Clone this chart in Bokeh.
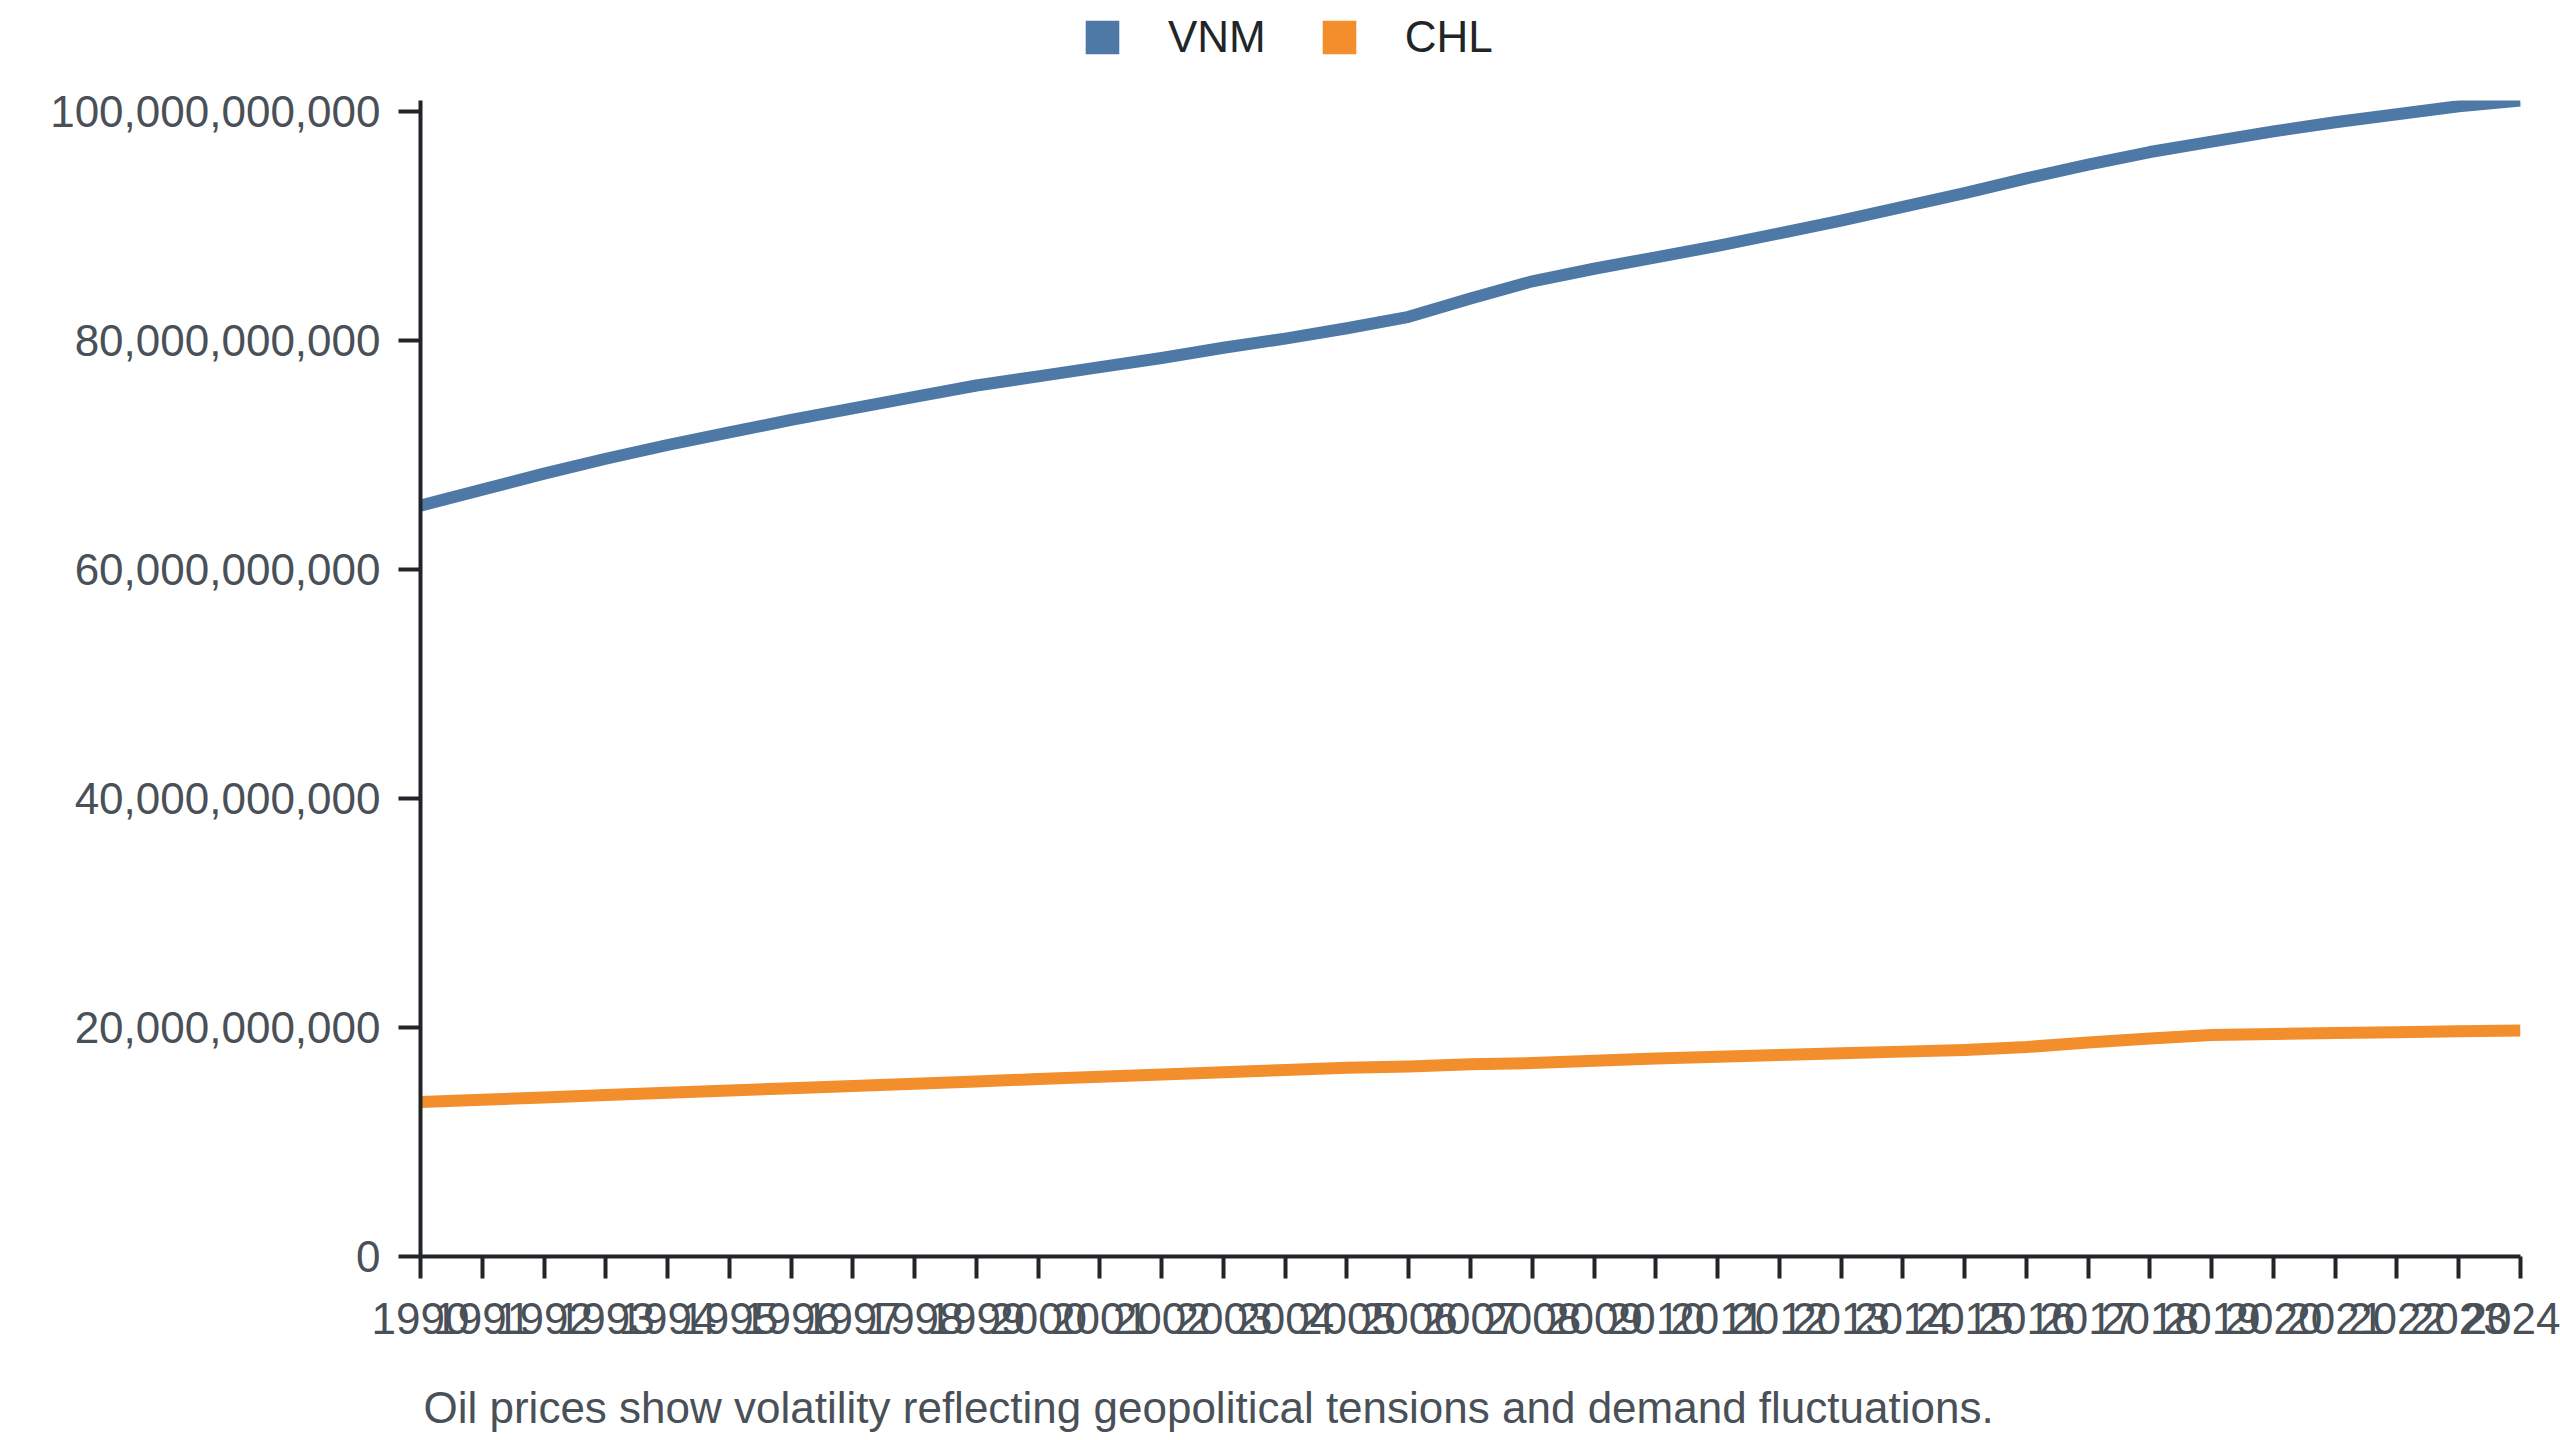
import math
from bokeh.plotting import figure
from bokeh.layouts import column
from bokeh.models import (Range1d, FixedTicker, NumeralTickFormatter, Legend, LegendItem,
                          ColumnDataSource, Label)
from bokeh.embed import file_html
from bokeh.resources import INLINE

years = list(range(1990, 2025))
vnm = [65.6, 67.0, 68.4, 69.7, 70.9, 72.0, 73.1, 74.1, 75.1, 76.1,
       76.9, 77.7, 78.5, 79.4, 80.2, 81.1, 82.1, 83.7, 85.2, 86.3,
       87.3, 88.3, 89.4, 90.5, 91.7, 92.9, 94.2, 95.4, 96.5, 97.4,
       98.3, 99.1, 99.8, 100.5, 101.0]
chl = [13.5, 13.7, 13.9, 14.1, 14.3, 14.5, 14.7, 14.9, 15.1, 15.3,
       15.5, 15.7, 15.9, 16.1, 16.3, 16.5, 16.6, 16.8, 16.9, 17.1,
       17.3, 17.45, 17.6, 17.75, 17.9, 18.05, 18.3, 18.7, 19.05, 19.35,
       19.45, 19.52, 19.6, 19.68, 19.75]
vnm = [v * 1e9 for v in vnm]
chl = [v * 1e9 for v in chl]
series_names = ["VNM", "CHL"]
colors = ["#4e79a7", "#f28e2b"]
y_ticks = [0, 20e9, 40e9, 60e9, 80e9, 100e9]
caption = "Oil prices show volatility reflecting geopolitical tensions and demand fluctuations."

FONT = "Liberation Sans"
FS = "44px"
W = 2560
LEG_H, CAP_H = 70, 70
MAIN_H = 1440 - LEG_H - CAP_H
FL, FT, FW, FH = 420, 30, 2100, 1156

# ---- legend strip (frame aligned with the main chart's frame) ----
leg = figure(width=W, height=LEG_H, output_backend="svg", toolbar_location=None,
             x_range=Range1d(0, FW), y_range=Range1d(0, LEG_H), min_border=0,
             x_axis_location=None, y_axis_location=None)
leg.grid.visible = False
leg.outline_line_color = None
sw = [leg.quad(left=[math.nan], right=[math.nan], top=[math.nan], bottom=[math.nan],
               fill_color=c, line_color=None) for c in colors]
legend = Legend(items=[LegendItem(label=n, renderers=[r]) for n, r in zip(series_names, sw)],
                orientation="horizontal", location=(661, 8),
                glyph_width=42, glyph_height=42, label_standoff=45, spacing=52,
                padding=0, margin=0, border_line_color=None, background_fill_alpha=0,
                label_text_font=FONT, label_text_font_size=FS, label_text_color="#212529")
leg.add_layout(legend, "center")

# ---- main chart ----
p = figure(width=W, height=MAIN_H, output_backend="svg", toolbar_location=None,
           x_range=Range1d(years[0], years[-1]), y_range=Range1d(0, max(vnm)),
           min_border_left=FL, min_border_top=FT,
           min_border_right=W - FL - FW, min_border_bottom=MAIN_H - FT - FH)
p.outline_line_color = None
p.grid.visible = False

src = ColumnDataSource(dict(x=years, vnm=vnm, chl=chl))
p.line("x", "vnm", source=src, line_color=colors[0], line_width=12, line_join="round")
p.line("x", "chl", source=src, line_color=colors[1], line_width=12, line_join="round")

for ax in (p.xaxis[0], p.yaxis[0]):
    ax.axis_line_color = "#212529"
    ax.axis_line_width = 4
    ax.major_tick_line_color = "#212529"
    ax.major_tick_line_width = 4
    ax.major_tick_out = 22
    ax.major_tick_in = 0
    ax.minor_tick_line_color = None
    ax.major_label_text_font = FONT
    ax.major_label_text_font_size = FS
    ax.major_label_text_color = "#495057"

p.xaxis.ticker = FixedTicker(ticks=years)
p.xaxis.formatter = NumeralTickFormatter(format="0")
p.xaxis.major_label_standoff = 24
p.yaxis.ticker = FixedTicker(ticks=y_ticks)
p.yaxis.formatter = NumeralTickFormatter(format="0,0")
p.yaxis.major_label_standoff = 18

# ---- caption strip (frame aligned with the main chart's frame) ----
cap = figure(width=W, height=CAP_H, output_backend="svg", toolbar_location=None,
             x_range=Range1d(0, FW), y_range=Range1d(0, CAP_H), min_border=0,
             x_axis_location=None, y_axis_location=None)
cap.grid.visible = False
cap.outline_line_color = None
cap.add_layout(Label(x=3, y=CAP_H - 37, text=caption, text_font=FONT,
                     text_font_size=FS, text_color="#495057",
                     text_align="left", text_baseline="middle"))

layout = column(leg, p, cap, spacing=0)
open("out.html", "w").write(file_html(layout, INLINE))
